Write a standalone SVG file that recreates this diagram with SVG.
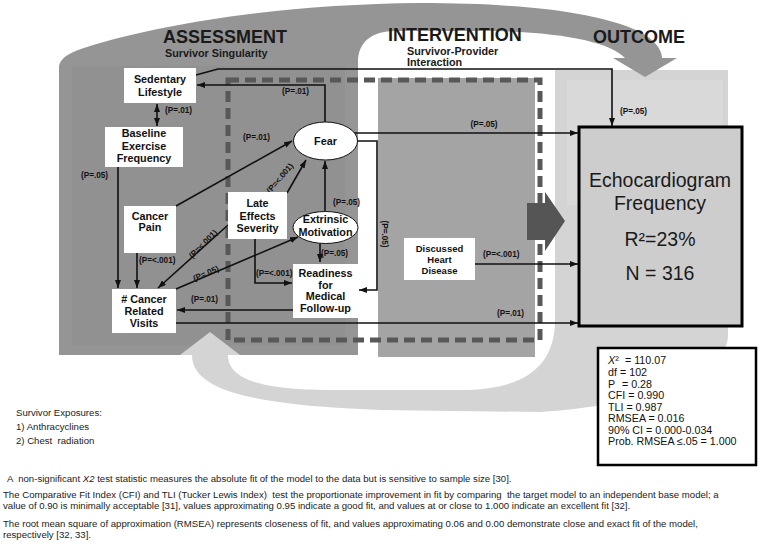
<svg xmlns="http://www.w3.org/2000/svg" width="760" height="545" viewBox="0 0 760 545">
<defs>
<marker id="ah" viewBox="0 0 8 6" refX="8" refY="3" markerWidth="8" markerHeight="6" markerUnits="userSpaceOnUse" orient="auto-start-reverse">
<path d="M0,0 L8,3 L0,6 z" fill="#111"/>
</marker>
<style>
.hd{font-family:"Liberation Sans",Arial,sans-serif;font-weight:bold;font-size:18px;fill:#1a1a1a}
.sub{font-family:"Liberation Sans",Arial,sans-serif;font-weight:bold;font-size:10.8px;fill:#1a1a1a}
.nd{font-family:"Liberation Sans",Arial,sans-serif;font-weight:bold;font-size:10.8px;fill:#111;text-anchor:middle}
.nds{font-family:"Liberation Sans",Arial,sans-serif;font-weight:bold;font-size:9.5px;fill:#111;text-anchor:middle}
.box{fill:#fff;stroke:none}
.lb{font-family:"Liberation Sans",Arial,sans-serif;font-weight:bold;font-size:8.2px;fill:#111}
.lbc{font-family:"Liberation Sans",Arial,sans-serif;font-weight:bold;font-size:8.2px;fill:#111;text-anchor:middle}
.cn{fill:none;stroke:#111;stroke-width:1.6}
.ea{marker-end:url(#ah)}
.big{font-family:"Liberation Sans",Arial,sans-serif;font-size:19.5px;fill:#1a1a1a;text-anchor:middle}
.st{font-family:"Liberation Sans",Arial,sans-serif;font-size:10.7px;fill:#111}
.fn{font-family:"Liberation Sans",Arial,sans-serif;font-size:9.6px;fill:#222}
</style>
</defs>
<rect x="0" y="0" width="760" height="545" fill="#fff"/>
<g id="background">
<path d="M555,70 L728,70 L728,335 C728,375 650,405 540,412 L380,410 C250,405 192,390 192,355 L228,355 C228,375 250,390 330,390 L460,390 C520,390 555,370 555,320 Z" fill="#d4d4d4"/>
<rect x="567" y="80" width="156" height="125" fill="#d9d9d9"/>
<path d="M59,355 L59,68 C59,58 70,52 90,46 C170,22 290,4 420,3 C520,3 600,12 640,32 C655,40 662,50 662,58 L677,58 L645,77 L613,58 L625,58 C610,42 560,31 480,31 L395,31 C372,31 358,42 358,62 L358,355 Z" fill="#959595"/>
<rect x="72" y="66" width="273" height="279" fill="#919191"/>
<polygon points="180,355 240,355 210,332" fill="#d4d4d4"/>
<rect x="378" y="78" width="157" height="279" fill="#a4a4a4"/>
<rect x="228" y="80" width="312" height="260" fill="none" stroke="#585858" stroke-width="5" stroke-dasharray="11 6"/>
<path d="M527,203 L545,203 L545,192 L565,221 L545,251 L545,240 L527,240 Z" fill="#555"/>
</g>
<g id="headers">
<text class="hd" x="163" y="43">ASSESSMENT</text>
<text class="sub" x="165" y="57">Survivor Singularity</text>
<text class="hd" x="388" y="41">INTERVENTION</text>
<text class="sub" x="407" y="55">Survivor-Provider</text>
<text class="sub" x="407" y="66">Interaction</text>
<text class="hd" x="593" y="43">OUTCOME</text>
</g>
<g id="connectors">
<path class="cn" d="M157,104 L157,126" marker-start="url(#ah)" marker-end="url(#ah)"/>
<path class="cn ea" d="M196,75 L218,69 L612,69 L612,126"/>
<path class="cn ea" d="M325,122 L325,85 L197,85"/>
<path class="cn ea" d="M176,206 L292,141"/>
<path class="cn ea" d="M287,193 L306,160"/>
<path class="cn ea" d="M325,211 L325,161"/>
<path class="cn ea" d="M357,141 L377,141 L377,290 L359,290"/>
<path class="cn ea" d="M354,133 L578,133"/>
<path class="cn ea" d="M118,167 L118,288"/>
<path class="cn ea" d="M137,253 L137,288"/>
<path class="cn ea" d="M228,225 L158,288"/>
<path class="cn ea" d="M176,289 L298,237"/>
<path class="cn ea" d="M255,239 L255,283 L292,283"/>
<path class="cn ea" d="M320,243 L320,262"/>
<path class="cn ea" d="M293,310 L177,310"/>
<path class="cn ea" d="M176,323 L578,323"/>
<path class="cn ea" d="M475,264 L578,264"/>
</g>
<g id="labels">
<text class="lb" x="165" y="113">(P=.01)</text>
<text class="lb" x="620" y="114">(P=.05)</text>
<text class="lb" x="282" y="94">(P=.01)</text>
<text class="lb" x="243" y="140">(P=.01)</text>
<text class="lbc" transform="translate(282,180) rotate(-50)">(P=&lt;.001)</text>
<text class="lb" x="333" y="205">(P=.05)</text>
<text class="lbc" transform="translate(382,234) rotate(90)">(P=.05)</text>
<text class="lbc" x="484" y="127">(P=.05)</text>
<text class="lb" x="81" y="178">(P=.05)</text>
<text class="lb" x="139" y="263">(P=&lt;.001)</text>
<text class="lbc" transform="translate(205,246) rotate(-45)">(P=&lt;.001)</text>
<text class="lbc" transform="translate(207,276) rotate(-23)">(P=.05)</text>
<text class="lb" x="256" y="276">(P=&lt;.001)</text>
<text class="lb" x="321" y="256">(P=.05)</text>
<text class="lb" x="191" y="302">(P=.01)</text>
<text class="lb" x="497" y="316">(P=.01)</text>
<text class="lb" x="483" y="257">(P=&lt;.001)</text>
</g>
<g id="sedentary">
<rect class="box" x="124" y="68" width="72" height="35"/>
<text class="nd" x="160" y="83">Sedentary</text>
<text class="nd" x="160" y="96">Lifestyle</text>
</g>
<g id="baseline">
<rect class="box" x="105" y="127" width="78" height="40"/>
<text class="nd" x="144" y="137">Baseline</text>
<text class="nd" x="144" y="150">Exercise</text>
<text class="nd" x="144" y="162">Frequency</text>
</g>
<g id="cancer-pain">
<rect class="box" x="124" y="206" width="52" height="47"/>
<text class="nd" x="150" y="220">Cancer</text>
<text class="nd" x="150" y="231">Pain</text>
</g>
<g id="late-effects">
<rect class="box" x="228" y="192" width="59" height="47"/>
<text class="nd" x="257.5" y="207">Late</text>
<text class="nd" x="257.5" y="220">Effects</text>
<text class="nd" x="257.5" y="232">Severity</text>
</g>
<g id="fear">
<ellipse cx="325.5" cy="141" rx="32" ry="19" fill="#fff" stroke="#111" stroke-width="1"/>
<text class="nd" x="325.5" y="145">Fear</text>
</g>
<g id="extrinsic">
<ellipse cx="325.5" cy="227.5" rx="32.5" ry="16" fill="#fff" stroke="#111" stroke-width="1"/>
<text class="nd" x="325.5" y="223">Extrinsic</text>
<text class="nd" x="325.5" y="236">Motivation</text>
</g>
<g id="readiness">
<rect class="box" x="293" y="264" width="65" height="54"/>
<text class="nd" x="325.5" y="277">Readiness</text>
<text class="nd" x="325.5" y="289">for</text>
<text class="nd" x="325.5" y="300">Medical</text>
<text class="nd" x="325.5" y="312">Follow-up</text>
</g>
<g id="visits">
<rect class="box" x="112" y="289" width="64" height="44"/>
<text class="nd" x="144" y="303"># Cancer</text>
<text class="nd" x="144" y="315">Related</text>
<text class="nd" x="144" y="327">Visits</text>
</g>
<g id="discussed">
<rect class="box" x="404" y="238" width="71" height="42"/>
<text class="nds" x="439.5" y="252">Discussed</text>
<text class="nds" x="439.5" y="263">Heart</text>
<text class="nds" x="439.5" y="274">Disease</text>
</g>
<g id="echo">
<rect x="579" y="127" width="163" height="199" fill="#cdcdcd" stroke="#000" stroke-width="3"/>
<text class="big" x="660" y="187">Echocardiogram</text>
<text class="big" x="660" y="210">Frequency</text>
<text class="big" x="660" y="246">R²=23%</text>
<text class="big" x="660" y="280">N = 316</text>
</g>
<g id="stats">
<rect x="598" y="348" width="158" height="117" fill="#fff" stroke="#000" stroke-width="2.5"/>
<text class="st" x="608" y="364"><tspan font-style="italic">X</tspan>²<tspan x="625">= 110.07</tspan></text>
<text class="st" x="608" y="376">df<tspan x="620">= 102</tspan></text>
<text class="st" x="608" y="387.5">P<tspan x="622">= 0.28</tspan></text>
<text class="st" x="608" y="399">CFI = 0.990</text>
<text class="st" x="608" y="410.5">TLI = 0.987</text>
<text class="st" x="608" y="422">RMSEA = 0.016</text>
<text class="st" x="608" y="433.5">90% CI = 0.000-0.034</text>
<text class="st" x="608" y="445">Prob. RMSEA ≤.05 = 1.000</text>
</g>
<g id="exposures">
<text class="fn" x="16" y="416">Survivor Exposures:</text>
<text class="fn" x="16" y="430">1) Anthracyclines</text>
<text class="fn" x="16" y="444" xml:space="preserve">2) Chest  radiation</text>
</g>
<g id="footnotes">
<text class="fn" x="7" y="482" xml:space="preserve">A  non-significant <tspan font-style="italic">X2</tspan> test statistic measures the absolute fit of the model to the data but is sensitive to sample size [30].</text>
<text class="fn" x="3" y="498" xml:space="preserve">The Comparative Fit Index (CFI) and TLI (Tucker Lewis Index)  test the proportionate improvement in fit by comparing  the target model to an independent base model; a</text>
<text class="fn" x="3" y="509">value of 0.90 is minimally acceptable [31], values approximating 0.95 indicate a good fit, and values at or close to 1.000 indicate an excellent fit [32].</text>
<text class="fn" x="3" y="527">The root mean square of approximation (RMSEA) represents closeness of fit, and values approximating 0.06 and 0.00 demonstrate close and exact fit of the model,</text>
<text class="fn" x="3" y="538">respectively [32, 33].</text>
</g>
</svg>
